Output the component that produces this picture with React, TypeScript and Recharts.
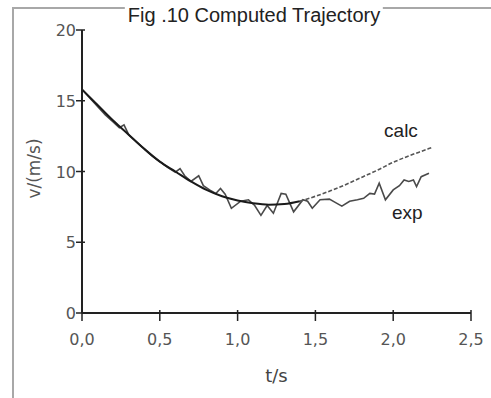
import React from 'react';
import { LineChart, Line, XAxis, YAxis, ReferenceDot } from 'recharts';

const title = 'Fig .10 Computed Trajectory';
const xLabel = 't/s';
const yLabel = 'v/(m/s)';

const xTicks = [0, 0.5, 1, 1.5, 2, 2.5];
const yTicks = [0, 5, 10, 15, 20];

const calcT = [0, 0.1, 0.2, 0.3, 0.4, 0.5, 0.6, 0.7, 0.8, 0.9, 1.0, 1.1, 1.2, 1.3, 1.4, 1.5, 1.6, 1.7, 1.8, 1.9, 2.0, 2.1, 2.2, 2.25];
const calcV = [15.8, 14.7, 13.6, 12.6, 11.6, 10.7, 10.0, 9.3, 8.7, 8.25, 7.95, 7.75, 7.65, 7.7, 7.9, 8.25, 8.65, 9.1, 9.6, 10.1, 10.65, 11.1, 11.5, 11.7];

const expT = [0, 0.05, 0.1, 0.15, 0.2, 0.24, 0.27, 0.3, 0.35, 0.4, 0.45, 0.5, 0.55, 0.6, 0.63, 0.66, 0.7, 0.75, 0.78, 0.82, 0.86, 0.89, 0.92, 0.96, 1.02, 1.07, 1.11, 1.15, 1.19, 1.23, 1.28, 1.31, 1.36, 1.42, 1.45, 1.48, 1.53, 1.59, 1.63, 1.67, 1.72, 1.77, 1.81, 1.85, 1.88, 1.91, 1.95, 2.0, 2.04, 2.07, 2.1, 2.13, 2.15, 2.18, 2.23];
const expV = [15.8, 15.2, 14.6, 14.0, 13.5, 13.1, 13.3, 12.6, 12.1, 11.6, 11.1, 10.7, 10.3, 9.95, 10.2, 9.7, 9.3, 9.7, 9.0, 8.7, 8.45, 8.8, 8.4, 7.4, 7.9, 8.0, 7.6, 6.9, 7.6, 7.05, 8.45, 8.4, 7.15, 8.0, 7.9, 7.4, 8.0, 8.05, 7.8, 7.55, 7.9, 8.0, 8.1, 8.45, 8.4, 9.17, 8.0, 8.7, 9.0, 9.4, 9.3, 9.4, 8.93, 9.63, 9.87];

const calcSplit = 1.4;
const calcData = calcT.map((t, i) => ({ t, v: calcV[i] }));
const calcSolid = calcData.filter((d) => d.t <= calcSplit);
const calcDash = calcData.filter((d) => d.t >= calcSplit);
const expData = expT.map((t, i) => ({ t, v: expV[i] }));

const tickFont = 'DejaVu Sans, Verdana, sans-serif';

const XTick = (props: any) => {
  const { x, y, payload } = props;
  return (
    <g>
      <line x1={x} x2={x} y1={y - 3} y2={y + 8} stroke="#222" strokeWidth={1.5} />
      <text x={x} y={y + 32} textAnchor="middle" fill="#555" fontSize={16} fontFamily={tickFont}>
        {payload.value.toFixed(1).replace('.', ',')}
      </text>
    </g>
  );
};

const YTick = (props: any) => {
  const { x, y, payload } = props;
  return (
    <g>
      <line x1={x - 6} x2={x + 3} y1={y} y2={y} stroke="#222" strokeWidth={1.5} />
      <text x={x - 6} y={y + 6} textAnchor="end" fill="#555" fontSize={16} fontFamily={tickFont}>
        {String(payload.value)}
      </text>
    </g>
  );
};

const XAxisLabel = (props: any) => {
  const vb = props.viewBox;
  return (
    <text x={vb.x + vb.width / 2} y={vb.y + 69} textAnchor="middle" fill="#444" fontSize={18} fontFamily={tickFont}>
      {xLabel}
    </text>
  );
};

const YAxisLabel = (props: any) => {
  const vb = props.viewBox;
  const cx = vb.x + 34;
  const cy = vb.y + vb.height / 2 - 3;
  return (
    <text x={cx} y={cy} transform={`rotate(-90 ${cx} ${cy})`} textAnchor="middle" dominantBaseline="central" fill="#555" fontSize={17} fontFamily={tickFont}>
      {yLabel}
    </text>
  );
};

export default function App() {
  return (
    <div style={{ position: 'absolute', left: 0, top: 0, width: 491, height: 398, overflow: 'hidden', background: '#fff' }}>
      <div style={{ position: 'absolute', left: 12, top: 7, width: 600, height: 500, borderLeft: '2px solid #a8a8a8', borderTop: '2px solid #a8a8a8' }} />
      <div style={{ position: 'absolute', left: 0, top: 0 }}>
        <LineChart width={491} height={398} data={calcData} margin={{ top: 30, right: 20, left: 0, bottom: 0 }}>
          <XAxis
            type="number"
            dataKey="t"
            domain={[0, 2.5]}
            ticks={xTicks}
            interval={0}
            height={85}
            tickSize={0}
            tickMargin={0}
            tickLine={false}
            axisLine={{ stroke: '#222', strokeWidth: 2 }}
            tick={(p: any) => <XTick {...p} />}
            label={(p: any) => <XAxisLabel {...p} />}
            allowDataOverflow
          />
          <YAxis
            type="number"
            domain={[0, 20]}
            ticks={yTicks}
            interval={0}
            width={82}
            tickSize={0}
            tickMargin={0}
            tickLine={false}
            axisLine={{ stroke: '#222', strokeWidth: 2 }}
            tick={(p: any) => <YTick {...p} />}
            label={(p: any) => <YAxisLabel {...p} />}
            allowDataOverflow
          />
          <Line data={expData} dataKey="v" type="linear" stroke="#4a4a4a" strokeWidth={1.6} dot={false} isAnimationActive={false} />
          <Line data={calcSolid} dataKey="v" type="monotone" stroke="#1a1a1a" strokeWidth={2} dot={false} isAnimationActive={false} />
          <Line data={calcDash} dataKey="v" type="monotone" stroke="#555" strokeWidth={1.6} strokeDasharray="4 2" dot={false} isAnimationActive={false} />
          <ReferenceDot x={2.05} y={12.9} r={0} fill="none" stroke="none" label={{ value: 'calc', position: 'center', fontSize: 19, fill: '#222', fontFamily: 'Liberation Sans, Arial, sans-serif' }} />
          <ReferenceDot x={2.09} y={7.15} r={0} fill="none" stroke="none" label={{ value: 'exp', position: 'center', fontSize: 19, fill: '#222', fontFamily: 'Liberation Sans, Arial, sans-serif' }} />
        </LineChart>
      </div>
      <div style={{ position: 'absolute', left: 254, top: 5, transform: 'translateX(-50%)', background: '#fff', padding: '0 3px', whiteSpace: 'nowrap', fontFamily: 'Liberation Sans, Arial, sans-serif', fontSize: 20, lineHeight: '20px', color: '#222' }}>
        {title}
      </div>
    </div>
  );
}
